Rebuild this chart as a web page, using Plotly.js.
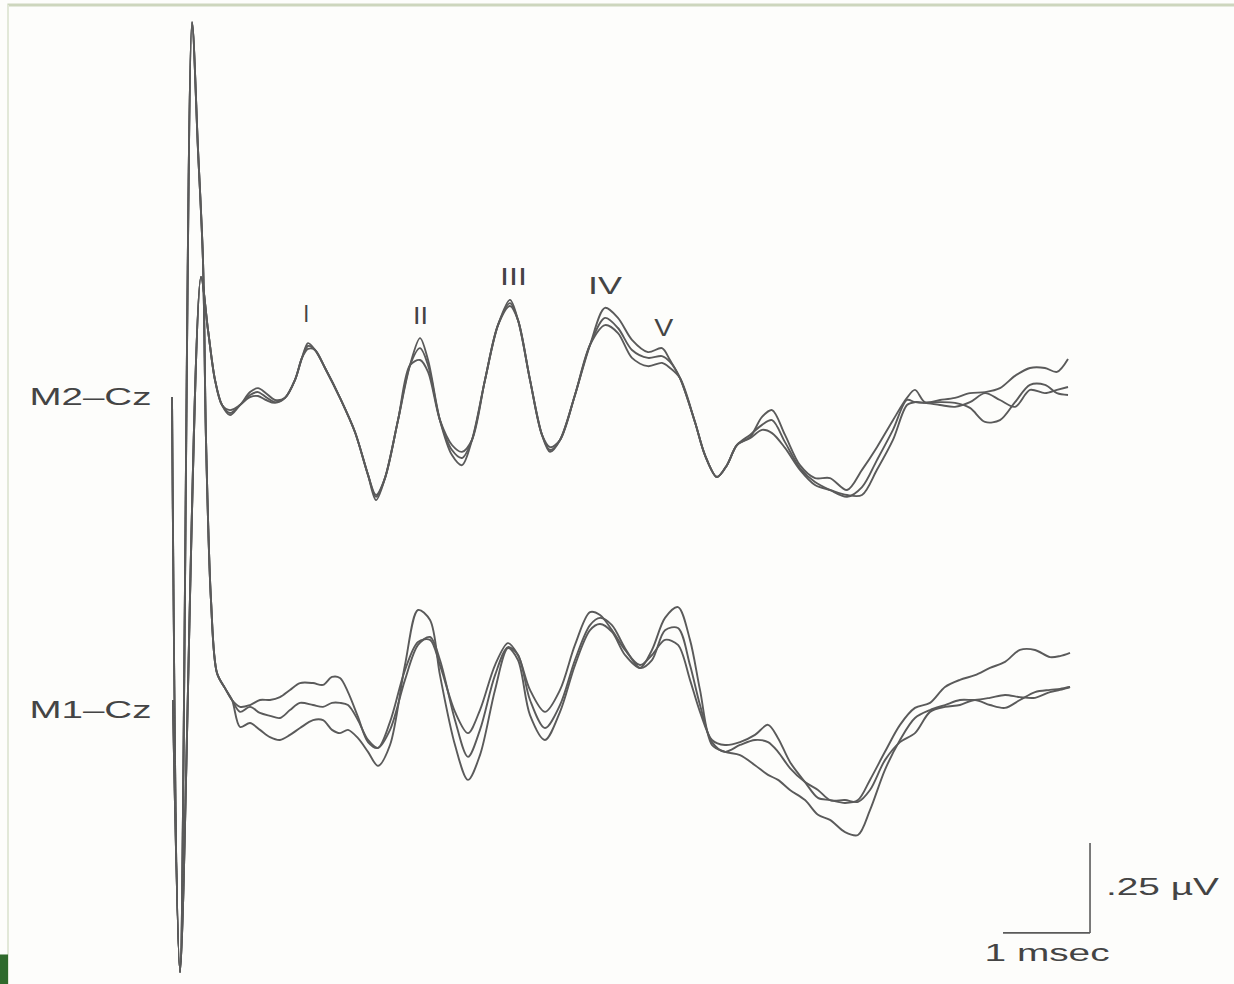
<!DOCTYPE html>
<html>
<head>
<meta charset="utf-8">
<script src="https://cdn.plot.ly/plotly-3.0.1.min.js"></script>
<style>
  html, body { margin: 0; padding: 0; background: #fdfdfb; }
  #chart { width: 1234px; height: 984px; }
</style>
</head>
<body>
<div id="chart"></div>
<script>
// ---------------- DATA (time in ms after stimulus, amplitude in µV) ----------------
const m2Time = [0.000,0.092,0.333,0.414,0.494,0.575,0.667,0.782,0.897,0.989,
  1.080,1.184,1.299,1.414,1.494,1.563,1.644,1.759,1.931,2.103,
  2.253,2.345,2.448,2.598,2.736,2.851,2.943,3.080,3.218,3.333,
  3.448,3.598,3.747,3.885,3.977,4.115,4.253,4.345,4.460,4.632,
  4.805,4.977,5.126,5.287,5.471,5.632,5.724,5.839,6.011,6.126,
  6.264,6.379,6.494,6.644,6.782,6.897,7.046,7.218,7.391,7.563,
  7.759,7.931,8.103,8.287,8.448,8.540,8.655,8.828,9.000,9.172,
  9.345,9.517,9.690,9.862,10.034,10.172,10.299];

const m2SweepA = [0.008,-1.589,0.342,0.194,0.056,-0.014,-0.036,-0.014,0.022,0.033,
  0.019,0.000,0.006,0.056,0.117,0.158,0.139,0.089,0.006,-0.089,
  -0.208,-0.278,-0.217,-0.056,0.097,0.172,0.111,-0.056,-0.153,-0.181,
  -0.111,0.056,0.208,0.278,0.222,0.056,-0.097,-0.139,-0.111,0.014,
  0.153,0.256,0.228,0.167,0.133,0.144,0.111,0.061,-0.061,-0.153,
  -0.214,-0.181,-0.125,-0.103,-0.047,-0.028,-0.097,-0.181,-0.217,-0.217,
  -0.250,-0.194,-0.131,-0.056,0.006,0.028,-0.006,0.000,0.006,0.019,
  0.022,0.033,0.067,0.089,0.089,0.078,0.114];

const m2SweepB = [0.008,-1.589,0.342,0.194,0.056,-0.014,-0.028,-0.014,0.014,0.022,
  0.008,-0.006,0.006,0.056,0.117,0.150,0.139,0.089,0.006,-0.089,
  -0.208,-0.269,-0.217,-0.056,0.097,0.144,0.097,-0.056,-0.139,-0.161,
  -0.111,0.056,0.208,0.269,0.222,0.056,-0.097,-0.131,-0.111,0.014,
  0.153,0.228,0.200,0.139,0.117,0.122,0.106,0.061,-0.061,-0.153,
  -0.214,-0.181,-0.125,-0.097,-0.069,-0.056,-0.117,-0.189,-0.228,-0.250,
  -0.269,-0.242,-0.167,-0.083,0.000,-0.006,-0.008,-0.006,-0.008,-0.022,
  -0.061,-0.056,-0.006,0.042,0.042,0.019,0.014];

const m2SweepC = [0.008,-1.589,0.342,0.194,0.056,-0.014,-0.042,-0.014,0.008,0.011,
  0.000,-0.008,0.006,0.056,0.117,0.142,0.139,0.089,0.006,-0.089,
  -0.208,-0.264,-0.217,-0.056,0.097,0.111,0.078,-0.056,-0.125,-0.144,
  -0.111,0.056,0.208,0.261,0.222,0.056,-0.097,-0.144,-0.111,0.014,
  0.153,0.208,0.186,0.117,0.094,0.103,0.089,0.061,-0.061,-0.153,
  -0.214,-0.181,-0.125,-0.106,-0.083,-0.092,-0.133,-0.194,-0.236,-0.250,
  -0.264,-0.264,-0.194,-0.111,-0.014,-0.006,-0.008,-0.014,-0.019,-0.006,
  0.019,0.000,-0.019,0.028,0.019,0.028,0.036];

const m1Time = [0.011,0.092,0.230,0.299,0.356,0.391,0.448,0.517,0.609,0.690,
  0.782,0.897,1.011,1.126,1.241,1.356,1.471,
  1.621,1.736,1.839,1.931,2.023,2.138,2.253,2.368,2.506,
  2.678,2.828,2.966,3.080,3.253,3.402,3.540,3.713,3.862,3.977,4.115,4.287,4.460,4.632,4.805,4.920,
  5.057,5.207,5.379,5.517,5.667,5.816,5.954,6.069,6.207,6.356,6.529,6.701,6.851,6.966,7.103,7.276,
  7.425,7.563,7.736,7.885,8.023,8.195,8.368,8.540,8.713,8.885,9.057,9.230,9.402,9.575,9.747,9.920,10.092,10.207,10.322];

const m1SweepA = [0.000,-0.756,1.883,1.528,1.222,0.722,0.278,0.075,0.033,0.000,
  -0.019,-0.014,0.000,0.000,0.008,0.028,0.047,
  0.047,0.042,0.064,0.061,0.022,-0.047,-0.117,-0.133,-0.061,
  0.083,0.161,0.167,0.097,-0.033,-0.092,-0.028,0.097,0.158,0.125,0.028,-0.033,0.028,0.153,0.244,0.236,
  0.194,0.139,0.097,0.125,0.167,0.153,0.056,-0.033,-0.111,-0.125,-0.117,-0.097,-0.069,-0.106,-0.172,-0.228,
  -0.272,-0.278,-0.286,-0.278,-0.222,-0.144,-0.069,-0.022,-0.008,0.036,0.056,0.069,0.089,0.106,0.139,0.139,0.119,0.122,0.131];

const m1SweepB = [0.000,-0.756,1.883,1.528,1.222,0.722,0.278,0.075,0.033,0.000,
  -0.033,-0.019,-0.036,-0.044,-0.050,-0.028,-0.008,
  -0.014,-0.019,-0.008,-0.008,-0.014,-0.056,-0.111,-0.133,-0.083,
  0.056,0.153,0.175,0.111,-0.056,-0.158,-0.083,0.069,0.147,0.125,0.000,-0.078,-0.014,0.111,0.208,0.228,
  0.208,0.144,0.089,0.111,0.194,0.200,0.097,-0.014,-0.117,-0.144,-0.125,-0.111,-0.117,-0.144,-0.189,-0.228,
  -0.250,-0.278,-0.278,-0.283,-0.250,-0.167,-0.117,-0.092,-0.033,-0.019,-0.014,0.000,-0.014,-0.022,0.000,0.022,0.028,0.031,0.036];

const m1SweepC = [0.000,-0.756,1.883,1.528,1.222,0.722,0.278,0.075,0.033,0.000,
  -0.075,-0.064,-0.083,-0.103,-0.111,-0.097,-0.078,
  -0.056,-0.056,-0.083,-0.092,-0.083,-0.106,-0.144,-0.183,-0.125,
  0.097,0.250,0.222,0.069,-0.125,-0.222,-0.153,0.028,0.144,0.111,-0.042,-0.111,-0.033,0.097,0.194,0.211,
  0.189,0.125,0.089,0.139,0.228,0.258,0.167,0.028,-0.125,-0.144,-0.153,-0.181,-0.208,-0.222,-0.250,-0.278,
  -0.319,-0.333,-0.367,-0.375,-0.306,-0.194,-0.111,-0.050,-0.028,-0.014,0.000,0.000,0.006,0.014,0.008,0.006,0.022,0.028,0.036];

// Wave labels (I–V) and the M2–Cz latency/amplitude they sit above
const waveLabels = ['I','II','III','IV','V'];
const waveLabelTime = [1.540, 2.851, 3.920, 4.977, 5.655];
const waveLabelAmp = [0.239, 0.233, 0.342, 0.317, 0.200];

const channelLabels = ['M2–Cz', 'M1–Cz'];

// Calibration bar
const scaleBarMs = 1;
const scaleBarUv = 0.25;
const scaleBarLabels = ['.25 µV', '1 msec'];

// ---------------- STYLE / LAYOUT ----------------
const ink = '#5a5a5a';
const textInk = '#444444';
const lineStyle = {color: ink, width: 1.9, shape: 'spline', smoothing: 0.9};

function sweep(t, v, axis) {
  return {x: t, y: v, yaxis: axis, type: 'scatter', mode: 'lines',
          line: lineStyle, hoverinfo: 'skip', showlegend: false};
}

const traces = [
  sweep(m2Time, m2SweepA, 'y'),
  sweep(m2Time, m2SweepB, 'y'),
  sweep(m2Time, m2SweepC, 'y'),
  sweep(m1Time, m1SweepA, 'y2'),
  sweep(m1Time, m1SweepB, 'y2'),
  sweep(m1Time, m1SweepC, 'y2')
];

const font = {family: '"Liberation Sans", Arial, Helvetica, sans-serif', size: 23, color: textInk};

// stretch widths (px) applied to the rendered label text to mimic the wide scanned lettering
const annotations = [];
const stretch = [];
waveLabels.forEach((lab, i) => {
  annotations.push({text: lab, x: waveLabelTime[i], y: waveLabelAmp[i], xref: 'x', yref: 'y',
    showarrow: false, xanchor: 'center', yanchor: 'middle', font: font});
  stretch.push([6, 15, 27, 34, 19][i]);
});
annotations.push({text: channelLabels[0], x: -0.937, y: 0.008, xref: 'x', yref: 'y',
  showarrow: false, xanchor: 'center', yanchor: 'middle', font: font});
stretch.push(122);
annotations.push({text: channelLabels[1], x: -0.937, y: -0.028, xref: 'x', yref: 'y2',
  showarrow: false, xanchor: 'center', yanchor: 'middle', font: font});
stretch.push(122);

const barX = 10.552, barY = -0.647;
annotations.push({text: scaleBarLabels[0], x: barX + 0.84, y: barY + scaleBarUv * 0.51, xref: 'x', yref: 'y2',
  showarrow: false, xanchor: 'center', yanchor: 'middle', font: font});
stretch.push(113);
annotations.push({text: scaleBarLabels[1], x: barX - scaleBarMs * 0.495, y: 0.032, xref: 'x', yref: 'paper',
  showarrow: false, xanchor: 'center', yanchor: 'middle', font: font});
stretch.push(125);

const shapes = [
  {type: 'line', xref: 'x', yref: 'y2', x0: barX, x1: barX, y0: barY, y1: barY + scaleBarUv,
   line: {color: ink, width: 1.6}},
  {type: 'line', xref: 'x', yref: 'y2', x0: barX - scaleBarMs, x1: barX, y0: barY, y1: barY,
   line: {color: ink, width: 1.6}},
  // scanned page frame
  {type: 'line', xref: 'paper', yref: 'paper', x0: 0.006, x1: 1, y0: 0.9948, y1: 0.9948,
   line: {color: '#cdd6bd', width: 3}},
  {type: 'line', xref: 'paper', yref: 'paper', x0: 0.0065, x1: 0.0065, y0: 0, y1: 0.9948,
   line: {color: '#e2e8d8', width: 2}},
  {type: 'rect', xref: 'paper', yref: 'paper', x0: 0, x1: 0.0065, y0: 0, y1: 0.03,
   fillcolor: '#2f6a2c', line: {width: 0}}
];

const layout = {
  width: 1234, height: 984,
  margin: {l: 0, r: 0, t: 0, b: 0, pad: 0},
  paper_bgcolor: '#fdfdfb', plot_bgcolor: '#fdfdfb',
  showlegend: false,
  xaxis: {range: [-1.977, 12.207], visible: false, fixedrange: true},
  yaxis: {range: [-1.6222, 1.1111], visible: false, fixedrange: true},
  yaxis2: {range: [-0.7889, 1.9444], visible: false, fixedrange: true, overlaying: 'y'},
  annotations: annotations,
  shapes: shapes
};

Plotly.newPlot('chart', traces, layout, {staticPlot: true, displayModeBar: false}).then(gd => {
  const groups = gd.querySelectorAll('g.annotation');
  groups.forEach(g => {
    const idx = +g.getAttribute('data-index');
    const t = g.querySelector('text.annotation-text');
    if (t && stretch[idx]) {
      t.setAttribute('textLength', stretch[idx]);
      t.setAttribute('lengthAdjust', 'spacingAndGlyphs');
    }
  });
});
</script>
</body>
</html>
